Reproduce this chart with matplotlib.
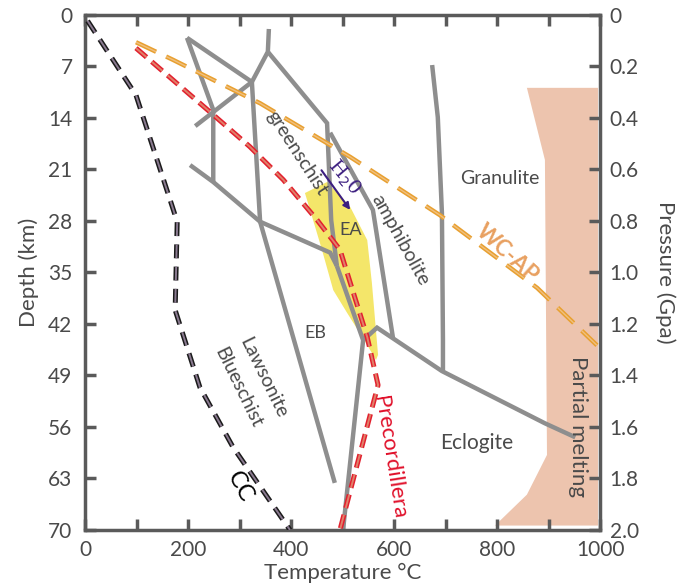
import matplotlib
matplotlib.use("Agg")
import matplotlib.pyplot as plt
from matplotlib.patches import Polygon

plt.rcParams['font.family'] = ['Lato', 'DejaVu Sans']
plt.rcParams['lines.scale_dashes'] = False

# geotherms (temperature C, depth km)
cc_t = [5, 99, 179, 175, 223, 287, 398]
cc_d = [0.8, 10.9, 28.1, 40.1, 50.6, 58.7, 70]
pre_t = [99, 243, 320, 385, 451, 495, 515, 548, 569, 495]
pre_d = [4.5, 13.2, 17.9, 22.4, 27.9, 31.9, 36.4, 43.8, 50.3, 70]
wcap_t = [99, 171, 340, 515, 689, 878, 994]
wcap_d = [3.7, 6.1, 12.0, 19.3, 27.2, 37.1, 44.9]

# facies boundaries
facies = [
    ([198, 324], [3.1, 9.1]),
    ([198, 249, 249], [3.1, 12.9, 22.7]),
    ([214, 324, 355, 357], [15.1, 9.1, 5.0, 1.9]),
    ([355, 470, 478, 489], [5.0, 14.7, 27.9, 34.1]),
    ([324, 340, 485], [9.1, 28.1, 63.6]),
    ([204, 249, 340, 476, 489], [20.4, 22.7, 28.1, 32.3, 34.1]),
    ([489, 540, 501], [34.1, 44.2, 70]),
    ([540, 567, 693, 893, 952], [44.2, 42.5, 48.4, 55.5, 57.4]),
    ([476, 559, 598], [16.0, 26.5, 43.9]),
    ([674, 685, 693, 695, 695], [6.8, 13.9, 26.9, 44.2, 48.4]),
]

# shaded fields
melt_t = [858, 996, 996, 796, 858, 897, 893]
melt_d = [9.9, 9.9, 69.4, 69.4, 65.2, 59.8, 19.7]
ea_t = [427, 470, 515, 548, 557, 569, 565, 544, 509, 482, 460, 437]
ea_d = [24.2, 22.7, 26.1, 30.6, 36.4, 46.2, 46.9, 44.4, 40.5, 37.4, 31.9, 26.5]

depth_ticks = [0, 7, 14, 21, 28, 35, 42, 49, 56, 63, 70]
temp_labels = [0, 200, 400, 600, 800, 1000]
press_ticks = [0, 0.2, 0.4, 0.6, 0.8, 1.0, 1.2, 1.4, 1.6, 1.8, 2.0]
press_labels = ['0', '0.2', '0.4', '0.6', '0.8', '1.0', '1.2', '1.4', '1.6', '1.8', '2.0']

txt = '#4a4a4a'
spine = '#5a5a5a'
gray = '#8e8e8e'

fig = plt.figure(figsize=(6.78, 5.86), dpi=100)
ax = fig.add_axes([0.1254, 0.0956, 0.7596, 0.8788])

ax.add_patch(Polygon(list(zip(melt_t, melt_d)), closed=True, fc='#edc4ae', ec='none', zorder=1))
ax.add_patch(Polygon(list(zip(ea_t, ea_d)), closed=True, fc='#f4e66a', ec='none', zorder=1))

for t, d in facies:
    ax.plot(t, d, color=gray, lw=3.2, solid_joinstyle='miter', solid_capstyle='butt', zorder=2)

ax.plot(cc_t, cc_d, color='#1a1a1a', lw=3.6, dashes=(10, 6), zorder=3)
ax.plot(cc_t, cc_d, color='#8a7a90', lw=1.4, dashes=(10, 6), zorder=3)
ax.plot(pre_t, pre_d, color='#e2202e', lw=3.6, dashes=(10, 5), zorder=3)
ax.plot(pre_t, pre_d, color='#e0806a', lw=1.4, dashes=(10, 5), zorder=3)
ax.plot(wcap_t, wcap_d, color='#e8a030', lw=3.2, dashes=(16, 8), zorder=3)
ax.plot(wcap_t, wcap_d, color='#f0c080', lw=1.0, dashes=(16, 8), zorder=3)

# H2O arrow
ax.annotate('', xy=(518, 26.8), xytext=(456, 20.8),
            arrowprops=dict(arrowstyle='-|>', color='#3c1e80', lw=1.5, mutation_scale=10), zorder=4)
ax.text(503, 22.0, 'H$_2$0', family='DejaVu Serif', color='#3c1e80', fontsize=14,
        rotation=-50, ha='center', va='center', zorder=5)

lab = dict(ha='center', va='center', color=txt, zorder=5)
ax.text(412, 18.8, 'greenschist', fontsize=14, rotation=-57, **lab)
ax.text(612, 30.6, 'amphibolite', fontsize=14, rotation=-61, **lab)
ax.text(806, 22.2, 'Granulite', fontsize=14, **lab)
ax.text(515, 29.2, 'EA', fontsize=13, **lab)
ax.text(448, 43.2, 'EB', fontsize=13, **lab)
ax.text(346, 49.3, 'Lawsonite', fontsize=14, rotation=-64, **lab)
ax.text(297, 50.7, 'Blueschist', fontsize=14, rotation=-64, **lab)
ax.text(761, 58.2, 'Eclogite', fontsize=15, **lab)
ax.text(957, 56.0, 'Partial melting', fontsize=16, rotation=-90, **lab)
ax.text(820, 32.4, 'WC-AP', fontsize=16, rotation=-42, ha='center', va='center',
        color='#e8a060', fontweight='bold', zorder=5)
ax.text(591, 60.2, 'Precordillera', fontsize=16, rotation=-81, ha='center', va='center',
        color='#e0102a', zorder=5)
ax.text(301, 64.2, 'CC', fontsize=17, rotation=-62, ha='center', va='center',
        color='black', zorder=5)

ax.set_xlim(0, 1000)
ax.set_ylim(70, 0)
ax.set_xticks(range(0, 1001, 100))
ax.set_xticklabels([str(v) if v in temp_labels else '' for v in range(0, 1001, 100)])
ax.set_yticks(depth_ticks)
ax.tick_params(axis='both', direction='in', length=8, width=2.5, color=spine,
               labelcolor=txt, labelsize=15, top=True)
ax.tick_params(axis='y', pad=9)
ax.tick_params(axis='x', pad=7)
for s in ax.spines.values():
    s.set_color(spine)
    s.set_linewidth(2.5)

ax2 = ax.twinx()
ax2.set_ylim(2.0, 0)
ax2.set_yticks(press_ticks)
ax2.set_yticklabels(press_labels)
ax2.tick_params(axis='y', direction='in', length=8, width=2.5, color=spine,
                labelcolor=txt, labelsize=15, pad=7)
for s in ax2.spines.values():
    s.set_visible(False)

ax.set_ylabel('Depth (km)', fontsize=16, color=txt, ha='center', va='center')
ax.yaxis.set_label_coords(-0.11, 0.5)
ax.set_xlabel('Temperature °C', fontsize=16, color=txt)
ax.xaxis.set_label_coords(0.5, -0.064)
ax2.set_ylabel('Pressure (Gpa)', fontsize=16, color=txt, rotation=270, ha='center', va='center')
ax2.yaxis.set_label_coords(1.126, 0.5)

fig.savefig('out.png', dpi=100)
